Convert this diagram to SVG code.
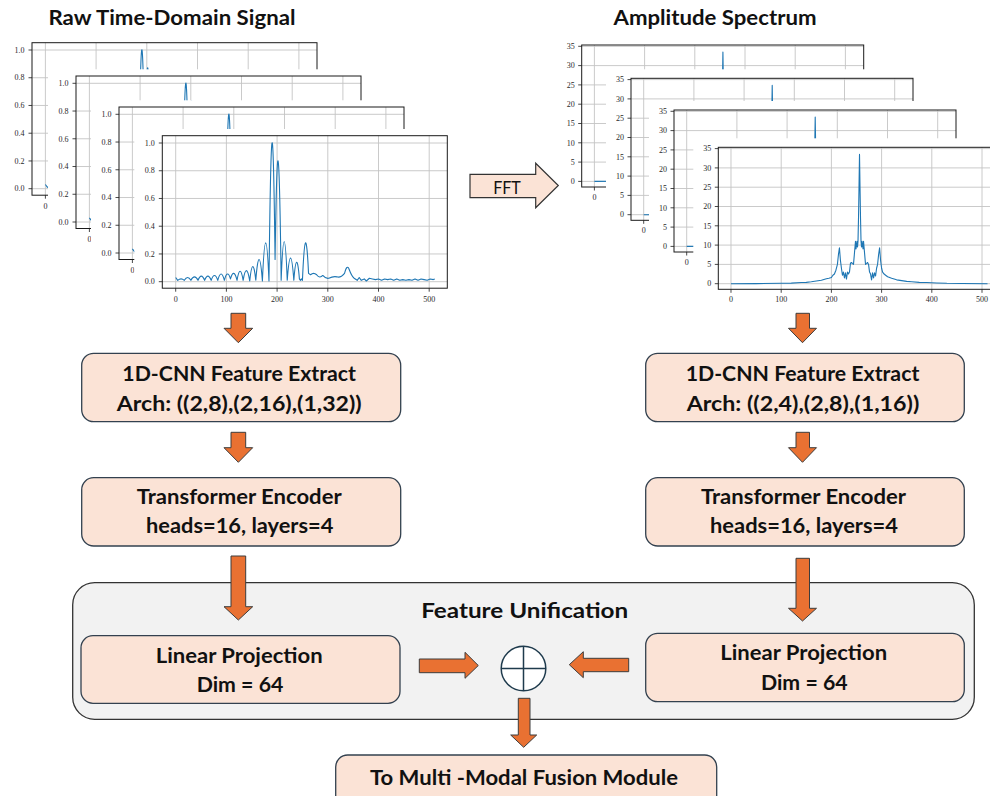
<svg xmlns="http://www.w3.org/2000/svg" xmlns:xlink="http://www.w3.org/1999/xlink" width="990" height="796" viewBox="0 0 990 796">
<style>
.bg{fill:#fff}
.grid{stroke:#c4c4c4;stroke-width:0.9;fill:none}
.frame{fill:none;stroke:#1a1a1a;stroke-width:1}
.tick{stroke:#1a1a1a;stroke-width:0.8;fill:none}
.curve{fill:none;stroke:#1f77b4;stroke-width:1.1;vector-effect:non-scaling-stroke;stroke-linejoin:round}
.tk{font-family:"Liberation Serif",serif;font-size:8px;fill:#2a2a2a}
.ty{text-anchor:end}
.tx{text-anchor:middle}
.box{fill:#fbe3d6;stroke:#33414f;stroke-width:1.3}
.cont{fill:#f2f2f2;stroke:#333;stroke-width:1.3}
.arr{fill:#e97132;stroke:#3d3d3d;stroke-width:1}
.lbl{font-family:Lato,"Open Sans",sans-serif;font-weight:700;font-size:20px;fill:#111;text-anchor:middle}
.fft{fill:#fbe3d6;stroke:#333;stroke-width:1.2}
</style>
<defs>
<path id="sig" class="curve" d="M0,0.03 L4,0.01 Q10.5,0.03 17,0.01 Q23.5,0.05 30,0.01 Q37,0.06 44,0.01 Q50.5,0.07 57,0.01 Q63.5,0.07 70,0.01 Q76.5,0.08 83,0.01 Q89.5,0.1 96,0.01 Q102,0.095 108,0.02 Q114.5,0.105 121,0.01 Q127,0.14 133,0.01 Q139.5,0.1525 146,0.005 Q152,0.2125 158,0.01 Q164.5,0.3125 171,0.005 Q177.5,0.555 184,0.005 Q190,1.9175 196,0.16 Q202,1.655 208,0.01 Q214,0.57 220,0.01 Q226.5,0.33 233,0.01 Q238.5,0.265 244,0.02 L246,0.01 248,0.02 250,0.01 Q256,0.525 262,0.06 L266,0.05 Q272,0.07 278,0.05 Q284,0.02 290,0.045 Q296,0.02 302,0.025 Q310,0.04 318,0.035 Q325,0.025 333,0.06 Q338,0.13 342,0.09 Q347,0.04 352,0.025 L358,0.01 362,0.03 366,0.01 372,0.02 376,0.005 382,0.025 388,0.02 394,0.015 400,0.02 406,0.01 412,0.02 418,0.015 424,0.02 430,0.01 436,0.02 442,0.01 448,0.015 454,0.01 460,0.015 466,0.01 472,0.02 478,0.01 484,0.02 490,0.015 496,0.01 502,0.02 508,0.015 511,0.02"/>
<path id="spec" class="curve" d="M0,0 L50,0.02 100,0.1 120,0.15 140,0.3 150,0.35 160,0.5 170,0.7 180,0.9 185,1.1 190,1.3 195,1.4 200,1.6 203,2.2 206,2.5 209,3.5 212,5 214,7.5 216,9.3 218,6 220,4 222,2.2 224,3 226,1.5 228,2.8 230,1.2 232,3 234,2.5 236,3 238,5.3 240,5.5 242,5.2 244,5 246,8 248,11 249,9 250,10 251,11 252,9.5 253,11 254,17 255,25 256,33.5 257,25 258,17 259,11 260,9.5 261,11 262,10 263,9 264,11 266,8 268,5 270,5.2 272,5.5 274,5 276,3 278,2.5 280,1 282,2.8 284,1.5 286,2.8 288,2 290,4 292,5 294,7.5 296,9.3 298,6 300,4 302,3 305,2.5 308,2.2 312,1.8 316,1.6 320,1.4 325,1.2 330,1 340,0.8 350,0.6 360,0.5 375,0.35 390,0.3 410,0.2 430,0.1 460,0.05 511,0"/>
<g id="lp">
<rect class="bg" x="-28" y="-6.7" width="323" height="180"/>
<path class="grid" d="M13.4,0V152.5M64.1,0V152.5M114.8,0V152.5M165.5,0V152.5M216.2,0V152.5M266.9,0V152.5M0,146H285M0,118.26H285M0,90.52H285M0,62.78H285M0,35.04H285M0,7.3H285"/>
<g transform="translate(13.4,146) scale(0.507,-138.7)"><use xlink:href="#sig"/></g>
<rect class="frame" x="0" y="0" width="285" height="152.5"/>
<path class="tick" d="M0,146h-3.5M0,118.26h-3.5M0,90.52h-3.5M0,62.78h-3.5M0,35.04h-3.5M0,7.3h-3.5M13.4,152.5v3.5M64.1,152.5v3.5M114.8,152.5v3.5M165.5,152.5v3.5M216.2,152.5v3.5M266.9,152.5v3.5"/>
</g>
<g id="rp">
<rect class="bg" x="-25" y="-9" width="317" height="172"/>
<path class="grid" d="M12.7,0V142M62.9,0V142M113.1,0V142M163.3,0V142M213.5,0V142M263.7,0V142M0,136.4H282M0,117.1H282M0,97.8H282M0,78.5H282M0,59.2H282M0,39.9H282M0,20.6H282M0,1.3H282"/>
<g transform="translate(12.7,136.4) scale(0.502,-3.86)"><use xlink:href="#spec"/></g>
<rect class="frame" x="0" y="0" width="282" height="142"/>
<path class="tick" d="M0,136.4h-3.5M0,117.1h-3.5M0,97.8h-3.5M0,78.5h-3.5M0,59.2h-3.5M0,39.9h-3.5M0,20.6h-3.5M0,1.3h-3.5M12.7,142v3.5M62.9,142v3.5M113.1,142v3.5M163.3,142v3.5M213.5,142v3.5M263.7,142v3.5"/>
</g>
</defs>

<g id="title-left"><text class="lbl" x="172" y="25" textLength="247" lengthAdjust="spacingAndGlyphs">Raw Time-Domain Signal</text></g>
<g id="title-right"><text class="lbl" x="715" y="25" textLength="203" lengthAdjust="spacingAndGlyphs">Amplitude Spectrum</text></g>

<g id="time-plots">
<g transform="translate(32,42.7)">
<use xlink:href="#lp"/>
<g class="tk ty"><text x="-7.5" y="148.8">0.0</text><text x="-7.5" y="121.1">0.2</text><text x="-7.5" y="93.3">0.4</text><text x="-7.5" y="65.6">0.6</text><text x="-7.5" y="37.8">0.8</text><text x="-7.5" y="10.1">1.0</text></g>
<text class="tk tx" x="13.4" y="166">0</text>
</g>
<g transform="translate(76,76)">
<use xlink:href="#lp"/>
<g class="tk ty"><text x="-7.5" y="148.8">0.0</text><text x="-7.5" y="121.1">0.2</text><text x="-7.5" y="93.3">0.4</text><text x="-7.5" y="65.6">0.6</text><text x="-7.5" y="37.8">0.8</text><text x="-7.5" y="10.1">1.0</text></g>
<text class="tk tx" x="13.4" y="166">0</text>
</g>
<g transform="translate(119,107)">
<use xlink:href="#lp"/>
<g class="tk ty"><text x="-7.5" y="148.8">0.0</text><text x="-7.5" y="121.1">0.2</text><text x="-7.5" y="93.3">0.4</text><text x="-7.5" y="65.6">0.6</text><text x="-7.5" y="37.8">0.8</text><text x="-7.5" y="10.1">1.0</text></g>
<text class="tk tx" x="13.4" y="166">0</text>
</g>
<g transform="translate(162.3,135.7)">
<use xlink:href="#lp"/>
<g class="tk ty"><text x="-7.5" y="148.8">0.0</text><text x="-7.5" y="121.1">0.2</text><text x="-7.5" y="93.3">0.4</text><text x="-7.5" y="65.6">0.6</text><text x="-7.5" y="37.8">0.8</text><text x="-7.5" y="10.1">1.0</text></g>
<g class="tk tx"><text x="13.4" y="166">0</text><text x="64.1" y="166">100</text><text x="114.8" y="166">200</text><text x="165.5" y="166">300</text><text x="216.2" y="166">400</text><text x="266.9" y="166">500</text></g>
</g>
</g>

<g id="spectrum-plots">
<g transform="translate(581.7,45)">
<use xlink:href="#rp"/>
<g class="tk ty"><text x="-7" y="139.2">0</text><text x="-7" y="119.9">5</text><text x="-7" y="100.6">10</text><text x="-7" y="81.3">15</text><text x="-7" y="62">20</text><text x="-7" y="42.7">25</text><text x="-7" y="23.4">30</text><text x="-7" y="4.1">35</text></g>
<text class="tk tx" x="12.7" y="154.5">0</text>
</g>
<g transform="translate(631,78.3)">
<use xlink:href="#rp"/>
<g class="tk ty"><text x="-7" y="139.2">0</text><text x="-7" y="119.9">5</text><text x="-7" y="100.6">10</text><text x="-7" y="81.3">15</text><text x="-7" y="62">20</text><text x="-7" y="42.7">25</text><text x="-7" y="23.4">30</text><text x="-7" y="4.1">35</text></g>
<text class="tk tx" x="12.7" y="154.5">0</text>
</g>
<g transform="translate(674,110)">
<use xlink:href="#rp"/>
<g class="tk ty"><text x="-7" y="139.2">0</text><text x="-7" y="119.9">5</text><text x="-7" y="100.6">10</text><text x="-7" y="81.3">15</text><text x="-7" y="62">20</text><text x="-7" y="42.7">25</text><text x="-7" y="23.4">30</text><text x="-7" y="4.1">35</text></g>
<text class="tk tx" x="12.7" y="154.5">0</text>
</g>
<g transform="translate(718.3,147.3)">
<use xlink:href="#rp"/>
<g class="tk ty"><text x="-7" y="139.2">0</text><text x="-7" y="119.9">5</text><text x="-7" y="100.6">10</text><text x="-7" y="81.3">15</text><text x="-7" y="62">20</text><text x="-7" y="42.7">25</text><text x="-7" y="23.4">30</text><text x="-7" y="4.1">35</text></g>
<g class="tk tx"><text x="12.7" y="154.5">0</text><text x="62.9" y="154.5">100</text><text x="113.1" y="154.5">200</text><text x="163.3" y="154.5">300</text><text x="213.5" y="154.5">400</text><text x="263.7" y="154.5">500</text></g>
</g>
</g>

<g id="fft">
<polygon class="fft" points="470,174.3 535.7,174.3 535.7,163.3 558.3,185.5 535.7,207.7 535.7,197.7 470,197.7"/>
<text x="507" y="193.5" font-family="Lato,'Open Sans',sans-serif" font-size="17" fill="#111" text-anchor="middle" textLength="27.7" lengthAdjust="spacingAndGlyphs">FFT</text>
</g>

<g id="cnn-left">
<rect class="box" x="81.7" y="353.3" width="319" height="68.4" rx="12"/>
<text class="lbl" x="239.2" y="381" textLength="233.7" lengthAdjust="spacingAndGlyphs">1D-CNN Feature Extract</text>
<text class="lbl" x="239.2" y="411" textLength="245" lengthAdjust="spacingAndGlyphs">Arch: ((2,8),(2,16),(1,32))</text>
</g>
<g id="trans-left">
<rect class="box" x="81.7" y="477.7" width="319" height="68.3" rx="12"/>
<text class="lbl" x="239.2" y="504" textLength="205" lengthAdjust="spacingAndGlyphs">Transformer Encoder</text>
<text class="lbl" x="239.7" y="533.3" textLength="187.3" lengthAdjust="spacingAndGlyphs">heads=16, layers=4</text>
</g>
<g id="cnn-right">
<rect class="box" x="645.7" y="353.3" width="318.6" height="68.4" rx="12"/>
<text class="lbl" x="802.5" y="381" textLength="233.7" lengthAdjust="spacingAndGlyphs">1D-CNN Feature Extract</text>
<text class="lbl" x="803" y="411" textLength="232.6" lengthAdjust="spacingAndGlyphs">Arch: ((2,4),(2,8),(1,16))</text>
</g>
<g id="trans-right">
<rect class="box" x="645.7" y="477.7" width="318.6" height="68.3" rx="12"/>
<text class="lbl" x="803.5" y="504" textLength="205" lengthAdjust="spacingAndGlyphs">Transformer Encoder</text>
<text class="lbl" x="804" y="533.3" textLength="188" lengthAdjust="spacingAndGlyphs">heads=16, layers=4</text>
</g>

<g id="feature-unification">
<rect class="cont" x="72.7" y="582.7" width="901.6" height="136.6" rx="22"/>
<text class="lbl" x="524.7" y="617.5" textLength="207" lengthAdjust="spacingAndGlyphs">Feature Unification</text>
</g>
<g id="linproj-left">
<rect class="box" x="81" y="635.7" width="319" height="67.6" rx="12"/>
<text class="lbl" x="239.2" y="662.7" textLength="167" lengthAdjust="spacingAndGlyphs">Linear Projection</text>
<text class="lbl" x="240" y="691.7" textLength="86.7" lengthAdjust="spacingAndGlyphs">Dim = 64</text>
</g>
<g id="linproj-right">
<rect class="box" x="645.7" y="633.3" width="318.6" height="68.4" rx="12"/>
<text class="lbl" x="803.7" y="660" textLength="167" lengthAdjust="spacingAndGlyphs">Linear Projection</text>
<text class="lbl" x="804.3" y="690" textLength="86.7" lengthAdjust="spacingAndGlyphs">Dim = 64</text>
</g>
<g id="sum">
<circle cx="523.5" cy="668.5" r="22.3" fill="#fff" stroke="#1f3b4d" stroke-width="1.5"/>
<path d="M501.2,668.5H545.8M523.5,646.2V690.8" stroke="#1f3b4d" stroke-width="1.5"/>
</g>
<g id="output">
<rect class="box" x="335.7" y="755" width="381" height="60" rx="12"/>
<text class="lbl" x="524" y="785" textLength="308" lengthAdjust="spacingAndGlyphs">To Multi -Modal Fusion Module</text>
</g>

<g id="connectors">
<polygon class="arr" points="231,313.3 245.7,313.3 245.7,328.3 252.7,328.3 238.35,342.7 224,328.3 231,328.3"/>
<polygon class="arr" points="231,432.3 245.7,432.3 245.7,447.7 252.7,447.7 238.35,462.3 224,447.7 231,447.7"/>
<polygon class="arr" points="231,556 245.7,556 245.7,606.7 252.7,606.7 238.35,620 224,606.7 231,606.7"/>
<polygon class="arr" points="796,313.3 809.5,313.3 809.5,328.3 816.5,328.3 802.5,342.7 788.5,328.3 796,328.3"/>
<polygon class="arr" points="796,432.3 809.5,432.3 809.5,447.7 816.5,447.7 802.5,462.3 788.5,447.7 796,447.7"/>
<polygon class="arr" points="796,558.3 809.5,558.3 809.5,608.3 816.5,608.3 802.5,621 788.5,608.3 796,608.3"/>
<polygon class="arr" points="419.3,659 465,659 465,652.3 478.3,665.5 465,678.3 465,672.7 419.3,672.7"/>
<polygon class="arr" points="628.7,658.3 583.3,658.3 583.3,651.7 569.3,664.7 583.3,677.7 583.3,671.7 628.7,671.7"/>
<polygon class="arr" points="518.3,698.3 530,698.3 530,735 536.7,735 523.7,747.3 510.7,735 518.3,735"/>
</g>
</svg>
